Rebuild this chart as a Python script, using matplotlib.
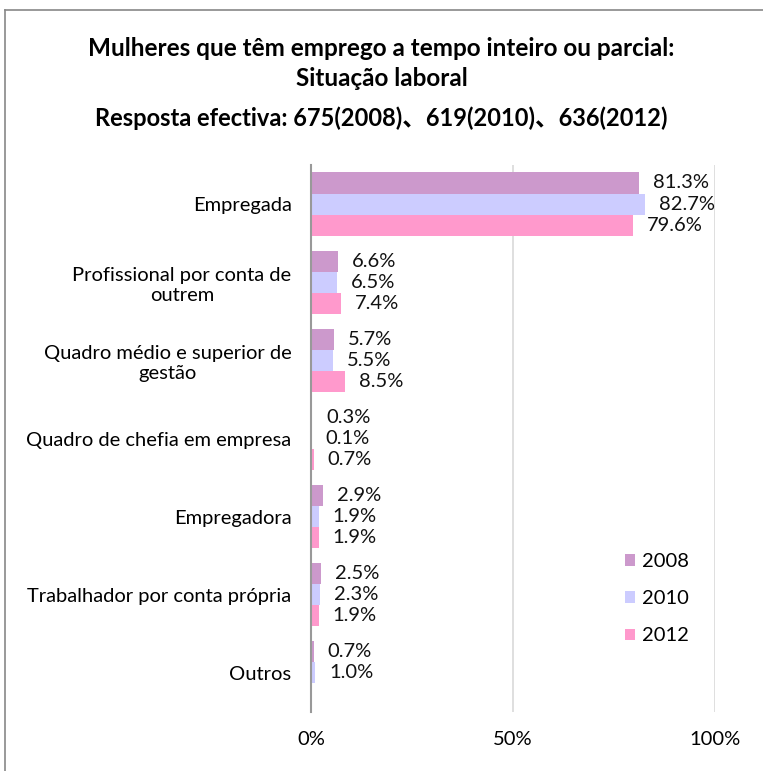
import numpy as np
import matplotlib.pyplot as plt
from matplotlib.lines import Line2D

plt.rcParams['font.family'] = ['Lato', 'Noto Sans CJK SC', 'DejaVu Sans']

categories = ['Empregada', 'Profissional por conta de\noutrem',
              'Quadro médio e superior de\ngestão', 'Quadro de chefia em empresa',
              'Empregadora', 'Trabalhador por conta própria', 'Outros']
years = ['2008', '2010', '2012']
v2008 = [81.3, 6.6, 5.7, 0.3, 2.9, 2.5, 0.7]
v2010 = [82.7, 6.5, 5.5, 0.1, 1.9, 2.3, 1.0]
v2012 = [79.6, 7.4, 8.5, 0.7, 1.9, 1.9, np.nan]
colors = ['#CC99CC', '#CCCCFF', '#FF99CC']

fig = plt.figure(figsize=(7.63, 7.71), dpi=100)
ax = fig.add_axes([311/763, 1-712/771, 404/763, (712-165)/771])

y = np.arange(len(categories))
h = 0.27
for i, (vals, c, lab) in enumerate(zip([v2008, v2010, v2012], colors, years)):
    vals = np.array(vals) / 100
    pos = y + (i - 1) * h
    ax.barh(pos, vals, height=h, color=c, label=lab, zorder=3)
    for p, v in zip(pos, vals):
        if np.isnan(v):
            continue
        ax.annotate(f'{v*100:.1f}%', (v, p), xytext=(10, 0), textcoords='offset points',
                    va='center', ha='left', fontsize=14.5, color='#111111')

ax.set_ylim(len(categories) - 0.5, -0.5)
ax.set_xlim(0, 1)
ax.set_yticks(y)
ax.set_yticklabels(categories, fontsize=14.5, multialignment='center')
ax.set_xticks([0, 0.5, 1])
ax.set_xticklabels(['0%', '50%', '100%'], fontsize=14.5)
ax.tick_params(length=0, pad=14, axis='y')
ax.tick_params(length=0, pad=14, axis='x')
ax.grid(axis='x', color='#D9D9D9', lw=1.2, zorder=0)
for s in ['top', 'right', 'bottom']:
    ax.spines[s].set_visible(False)
ax.spines['left'].set_color('#999999')
ax.spines['left'].set_linewidth(1.5)
ax.spines['left'].set_zorder(4)

leg = ax.legend(loc='upper left', bbox_to_anchor=(607/763, 1-535/771),
                bbox_transform=fig.transFigure, frameon=False, fontsize=14.5,
                handlelength=0.5, handleheight=0.5, handletextpad=0.35, labelspacing=1.0)

fig.text(0.5, 1-48/771, 'Mulheres que têm emprego a tempo inteiro ou parcial:',
         ha='center', va='center', fontsize=17.5, fontweight='bold')
fig.text(0.5, 1-79/771, 'Situação laboral', ha='center', va='center',
         fontsize=17.5, fontweight='bold')
fig.text(0.5, 1-118/771, 'Resposta efectiva: 675(2008)、619(2010)、636(2012)',
         ha='center', va='center', fontsize=17, fontweight='bold')

fig.add_artist(Line2D([5/763, 1], [1-10/771, 1-10/771], color='#888888', lw=1.2,
                      transform=fig.transFigure))
fig.add_artist(Line2D([5/763, 5/763], [0, 1-10/771], color='#888888', lw=1.2,
                      transform=fig.transFigure))

fig.savefig('out.png', dpi=100)
